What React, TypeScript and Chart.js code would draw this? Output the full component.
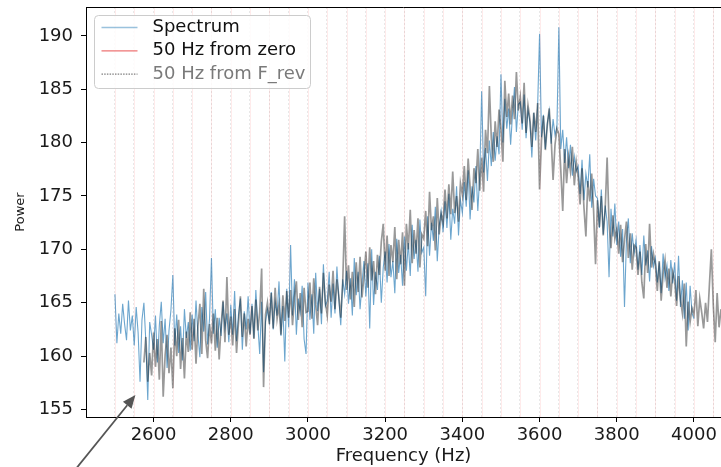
import { useEffect, useRef } from "react";
import { Chart, registerables } from "chart.js";

Chart.register(...registerables);

const FONT = "'DejaVu Sans', sans-serif";

// Frequency grid of the two power traces (Hz)
const SPECTRUM_START_HZ = 2500;
const SHIFTED_START_HZ = 2575;
const BIN_HZ = 5;

// Measured spectrum, 2500 .. 4000 Hz
const spectrumPower = [
  165.8, 161.2, 164.0, 162.1, 164.9, 163.0, 161.5, 165.2, 162.4, 163.8,
  161.0, 164.6, 162.2, 157.6, 163.4, 165.0, 161.4, 155.9, 163.2, 162.0,
  160.6, 163.8, 159.4, 162.9, 165.1, 161.2, 163.5, 158.9, 162.4, 164.3,
  167.6, 161.0, 163.9, 160.3, 162.8, 159.6, 164.4, 161.7, 163.2, 160.5,
  163.9, 161.4, 165.2, 162.0, 159.9, 164.6, 162.3, 166.0, 161.1, 163.5,
  169.2, 162.1, 164.4, 160.8, 163.6, 161.9, 165.1, 162.6, 164.0, 161.3,
  164.8, 162.0, 166.1, 161.4, 163.9, 165.4, 160.6, 164.2, 162.5, 165.6,
  162.1, 164.9, 161.7, 166.2, 163.0, 160.2, 165.1, 158.5, 163.2, 164.4,
  163.2, 166.0, 162.5, 165.1, 163.8, 167.0, 161.9, 164.7, 159.5, 166.3,
  162.7, 170.4, 163.8, 167.2, 162.0, 165.4, 164.1, 166.6, 161.6, 160.2,
  166.9, 163.4, 165.8, 162.1, 167.8, 164.2, 166.3, 163.0, 168.6, 164.7,
  165.2, 167.9, 163.6, 166.8, 164.0, 168.4, 165.3, 162.9, 167.2, 165.8,
  168.0, 164.9, 167.3, 163.8, 169.2, 165.7, 167.9, 164.4, 166.8, 168.9,
  165.6, 168.7, 162.6, 170.0, 164.8, 167.9, 166.2, 169.4, 165.0, 168.3,
  169.8, 166.9, 170.5, 167.4, 168.9, 165.9, 171.0, 167.8, 169.5, 166.6,
  171.2, 168.0, 170.6, 167.5, 172.3, 169.1, 170.9, 167.9, 172.8, 169.7,
  170.2, 165.6, 173.1, 169.4, 172.5, 170.8, 174.0, 168.9, 172.2, 173.6,
  171.6, 174.5, 172.0, 175.2, 170.9, 173.8, 172.4, 175.9, 171.3, 174.6,
  173.4, 176.3, 174.0, 177.4, 172.8, 175.9, 174.4, 177.8, 173.6, 176.9,
  184.8, 177.2, 179.5, 176.4, 180.2, 177.8, 181.0, 178.3, 180.6, 178.9,
  186.4, 180.0, 184.1, 181.3, 183.2, 179.8, 182.7, 185.2, 181.0, 183.6,
  183.8, 181.2, 184.5, 180.4, 183.1, 181.9, 178.6, 182.8, 180.2, 183.4,
  190.2, 180.5, 182.6, 179.4, 181.8, 183.0, 179.9, 182.2, 180.7, 181.5,
  190.8, 179.4, 181.2, 178.1, 180.5, 177.6, 179.8, 176.9, 178.7, 177.3,
  177.8, 175.2, 178.4, 174.6, 177.1, 175.8, 178.9, 173.9, 176.6, 175.0,
  174.8, 172.0, 175.6, 171.4, 174.1, 172.6, 167.4, 173.8, 171.2, 174.3,
  170.4, 172.6, 169.3, 171.9, 164.6, 170.8, 172.9, 168.7, 171.5, 169.6,
  170.9, 168.1, 170.4, 167.6, 171.3, 168.5, 169.9, 167.0, 170.3, 168.4,
  169.2, 166.9, 168.8, 165.9, 169.6, 167.3, 168.5, 166.1, 169.0, 166.8,
  168.8, 165.2, 169.4, 164.6, 167.1, 163.5, 166.9, 162.4, 166.6, 164.0,
  163.5,
];

// Second trace (grey), 2575 .. 4070 Hz
const shiftedPower = [
  159.4, 161.8, 157.6, 160.3, 158.2,
  162.2, 159.0, 161.6, 157.8, 163.3, 156.2, 160.1, 162.0, 158.4, 160.8,
  157.0, 162.6, 160.0, 163.4, 158.8, 161.7, 157.9, 162.3, 160.4, 164.1,
  160.6, 163.5, 159.3, 162.8, 164.9, 160.2, 166.3, 161.5, 159.8, 163.0,
  161.2, 164.0, 160.5, 163.6, 159.7, 162.9, 165.2, 161.3, 167.4, 162.0,
  163.7, 161.0, 164.4, 160.3, 163.1, 165.6, 161.8, 164.0, 160.9, 163.5,
  162.0, 164.7, 161.6, 165.3, 162.4, 164.1, 168.2, 157.1, 163.9, 165.0,
  163.0, 165.9, 162.6, 166.4, 163.5, 164.8, 162.0, 165.7, 163.3, 166.1,
  163.6, 166.2, 162.9, 165.5, 167.0, 163.4, 165.9, 162.7, 166.4, 164.1,
  164.2, 166.9, 163.5, 167.3, 164.8, 162.9, 166.5, 164.0, 167.8, 165.1,
  163.8, 166.7, 165.1, 168.0, 164.4, 167.2, 165.6, 163.6, 166.9, 173.1,
  166.2, 168.5, 165.3, 167.9, 164.6, 168.8, 166.0, 169.3, 165.5, 167.4,
  169.8, 166.4, 170.2, 167.1, 168.9, 165.8, 169.5, 167.6, 170.7, 172.4,
  168.0, 171.3, 167.5, 170.4, 168.8, 172.1, 167.2, 170.9, 168.6, 171.6,
  166.6, 172.4, 170.0, 173.7, 168.7, 171.8, 169.6, 172.9, 168.3, 171.4,
  171.0, 173.6, 170.3, 175.4, 171.8, 173.1, 169.9, 174.8, 171.4, 173.3,
  172.5, 175.6, 172.9, 176.1, 173.3, 177.3, 173.4, 175.0, 172.6, 176.2,
  175.1, 177.8, 174.6, 178.5, 175.9, 173.7, 177.6, 176.2, 179.4, 175.5,
  178.6, 175.4, 181.2, 179.0, 185.3, 180.4, 178.2, 182.0, 179.6, 183.1,
  181.2, 178.2, 185.8, 182.4, 184.6, 181.7, 184.4, 182.2, 186.6, 183.0,
  184.3, 181.8, 185.6, 180.9, 183.5, 182.2, 179.6, 182.8, 181.0, 183.7,
  175.6, 180.2, 182.5, 179.3, 181.6, 183.2, 180.4, 176.5, 179.8, 181.3,
  180.8, 177.4, 173.6, 179.4, 176.2, 178.7, 177.3, 179.6, 176.0, 178.2,
  176.8, 174.2, 177.6, 173.9, 171.2, 176.4, 174.5, 177.1, 173.6, 168.6,
  174.6, 172.1, 175.0, 171.3, 173.8, 178.6, 172.4, 170.1, 173.2, 171.0,
  171.9, 169.6, 172.3, 168.8, 170.9, 172.6, 169.2, 171.5, 168.1, 170.4,
  170.2, 167.6, 169.8, 166.9, 165.4, 170.5, 167.8, 172.4, 168.3, 169.6,
  168.6, 166.1, 168.9, 165.2, 167.7, 169.0, 166.4, 168.2, 165.6, 167.9,
  167.1, 164.7, 167.5, 165.3, 164.0, 166.8, 160.9, 165.1, 163.2, 164.5,
  163.9, 166.2, 162.8, 165.4, 164.1, 162.6, 165.0, 163.2, 166.7, 170.0,
  164.8, 161.3, 165.9, 162.7, 164.4,
];

// 50 Hz harmonic markers
const harmonicsHz = [
  2500, 2550, 2600, 2650, 2700, 2750, 2800, 2850, 2900, 2950, 3000,
  3050, 3100, 3150, 3200, 3250, 3300, 3350, 3400, 3450, 3500, 3550,
  3600, 3650, 3700, 3750, 3800, 3850, 3900, 3950, 4000, 4050,
];
const fRevShiftHz = -2;

const xTicks = [2600, 2800, 3000, 3200, 3400, 3600, 3800, 4000];
const yTicks = [155, 160, 165, 170, 175, 180, 185, 190];
const xRange = [2425, 4070];
const yRange = [154.3, 192.7];

// Annotation arrow (data coordinates)
const arrowTip = { x: 2553, y: 156.35 };
const arrowTail = { x: 2380, y: 148.6 };

const legendEntries = [
  { label: "Spectrum", color: "rgba(31,119,180,0.45)", width: 1.5, dash: [] as number[], text: "#111111" },
  { label: "50 Hz from zero", color: "rgba(232,70,70,0.75)", width: 1.2, dash: [] as number[], text: "#111111" },
  { label: "50 Hz from F_rev", color: "rgba(0,0,0,0.8)", width: 0.8, dash: [1.5, 1.2], text: "#7a7a7a" },
];

const toPoints = (start: number, values: number[]) =>
  values.map((y, i) => ({ x: start + i * BIN_HZ, y }));

const harmonicLines = {
  id: "harmonicLines",
  beforeDatasetsDraw(chart: any) {
    const { ctx, chartArea: a, scales } = chart;
    const x = scales.x;
    ctx.save();
    ctx.beginPath();
    ctx.rect(a.left, a.top, a.right - a.left, a.bottom - a.top);
    ctx.clip();
    ctx.lineWidth = 1;
    ctx.strokeStyle = "rgba(255,0,0,0.08)";
    for (const f of harmonicsHz) {
      const px = Math.round(x.getPixelForValue(f)) + 0.5;
      ctx.beginPath();
      ctx.moveTo(px, a.top);
      ctx.lineTo(px, a.bottom);
      ctx.stroke();
    }
    ctx.setLineDash([2, 2]);
    ctx.strokeStyle = "rgba(0,0,0,0.09)";
    for (const f of harmonicsHz) {
      const px = Math.round(x.getPixelForValue(f + fRevShiftHz)) + 0.5;
      ctx.beginPath();
      ctx.moveTo(px, a.top);
      ctx.lineTo(px, a.bottom);
      ctx.stroke();
    }
    ctx.restore();
  },
};

const frameAndLegend = {
  id: "frameAndLegend",
  afterDraw(chart: any) {
    const { ctx, chartArea: a, scales } = chart;
    ctx.save();
    // top spine
    ctx.strokeStyle = "#000";
    ctx.lineWidth = 1;
    ctx.beginPath();
    ctx.moveTo(a.left, Math.round(a.top) + 0.5);
    ctx.lineTo(a.right, Math.round(a.top) + 0.5);
    ctx.stroke();

    // legend box
    const bx = a.left + 8.5;
    const by = a.top + 8.5;
    const bw = 216;
    const bh = 73;
    ctx.beginPath();
    ctx.roundRect(bx, by, bw, bh, 4);
    ctx.fillStyle = "rgba(255,255,255,0.85)";
    ctx.fill();
    ctx.strokeStyle = "#cccccc";
    ctx.lineWidth = 1;
    ctx.stroke();

    ctx.font = `18px ${FONT}`;
    ctx.textBaseline = "middle";
    ctx.textAlign = "left";
    legendEntries.forEach((e, i) => {
      const cy = by + 12 + i * 23.3;
      ctx.beginPath();
      ctx.setLineDash(e.dash);
      ctx.strokeStyle = e.color;
      ctx.lineWidth = e.width;
      ctx.moveTo(bx + 7, cy);
      ctx.lineTo(bx + 43, cy);
      ctx.stroke();
      ctx.setLineDash([]);
      ctx.fillStyle = e.text;
      ctx.fillText(e.label, bx + 58, cy);
    });

    // annotation arrow
    const tx = scales.x.getPixelForValue(arrowTip.x);
    const ty = scales.y.getPixelForValue(arrowTip.y);
    const sx = scales.x.getPixelForValue(arrowTail.x);
    const sy = scales.y.getPixelForValue(arrowTail.y);
    const ang = Math.atan2(ty - sy, tx - sx);
    const headLen = 13;
    const headHalf = 5.5;
    const bxh = tx - headLen * Math.cos(ang);
    const byh = ty - headLen * Math.sin(ang);
    ctx.strokeStyle = "#555555";
    ctx.fillStyle = "#555555";
    ctx.lineWidth = 1.8;
    ctx.beginPath();
    ctx.moveTo(sx, sy);
    ctx.lineTo(bxh, byh);
    ctx.stroke();
    ctx.beginPath();
    ctx.moveTo(tx, ty);
    ctx.lineTo(bxh + headHalf * Math.sin(ang), byh - headHalf * Math.cos(ang));
    ctx.lineTo(bxh - headHalf * Math.sin(ang), byh + headHalf * Math.cos(ang));
    ctx.closePath();
    ctx.fill();
    ctx.restore();
  },
};

export default function App() {
  const canvasRef = useRef<HTMLCanvasElement | null>(null);

  useEffect(() => {
    const canvas = canvasRef.current;
    if (!canvas) return;
    const chart = new Chart(canvas, {
      type: "line",
      data: {
        datasets: [
          {
            label: "Spectrum",
            data: toPoints(SPECTRUM_START_HZ, spectrumPower),
            borderColor: "rgba(31,119,180,0.65)",
            borderWidth: 1.1,
            pointRadius: 0,
            tension: 0,
            order: 2,
          },
          {
            label: "Shifted",
            data: toPoints(SHIFTED_START_HZ, shiftedPower),
            borderColor: "rgba(0,0,0,0.4)",
            borderWidth: 1.7,
            pointRadius: 0,
            tension: 0,
            order: 1,
          },
        ],
      },
      options: {
        animation: false,
        responsive: false,
        devicePixelRatio: 1,
        events: [],
        layout: { padding: { top: 7, left: 0, right: 0, bottom: 0 } },
        plugins: {
          legend: { display: false },
          tooltip: { enabled: false },
        },
        scales: {
          x: {
            type: "linear",
            position: "bottom",
            min: xRange[0],
            max: xRange[1],
            afterBuildTicks: (s: any) => {
              s.ticks = xTicks.map((v) => ({ value: v }));
            },
            afterFit: (s: any) => {
              s.height = 50;
              s.paddingLeft = 0;
              s.paddingRight = 0;
            },
            ticks: {
              font: { family: FONT, size: 18 },
              color: "#1a1a1a",
              padding: 3,
              maxRotation: 0,
              autoSkip: false,
              callback: (v: any) => String(v),
            },
            grid: { drawOnChartArea: false, tickLength: 5, color: "#000" },
            border: { display: true, color: "#000", width: 1 },
            title: {
              display: true,
              text: "Frequency (Hz)",
              font: { family: FONT, size: 18 },
              color: "#1a1a1a",
              padding: { top: 0, bottom: 0 },
            },
          },
          y: {
            type: "linear",
            min: yRange[0],
            max: yRange[1],
            afterBuildTicks: (s: any) => {
              s.ticks = yTicks.map((v) => ({ value: v }));
            },
            afterFit: (s: any) => {
              s.width = 86;
              s.paddingTop = 0;
              s.paddingBottom = 0;
            },
            ticks: {
              font: { family: FONT, size: 18 },
              color: "#1a1a1a",
              padding: 8,
              callback: (v: any) => String(v),
            },
            grid: { drawOnChartArea: false, tickLength: 5, color: "#000" },
            border: { display: true, color: "#000", width: 1 },
            title: {
              display: true,
              text: "Power",
              font: { family: FONT, size: 13 },
              color: "#1a1a1a",
              padding: { top: 13, bottom: 0 },
            },
          },
        },
      },
      plugins: [harmonicLines, frameAndLegend],
    });
    return () => chart.destroy();
  }, []);

  return (
    <div style={{ position: "absolute", left: 0, top: 0, width: 721, height: 467, background: "#fff" }}>
      <canvas ref={canvasRef} width={721} height={467} />
    </div>
  );
}
